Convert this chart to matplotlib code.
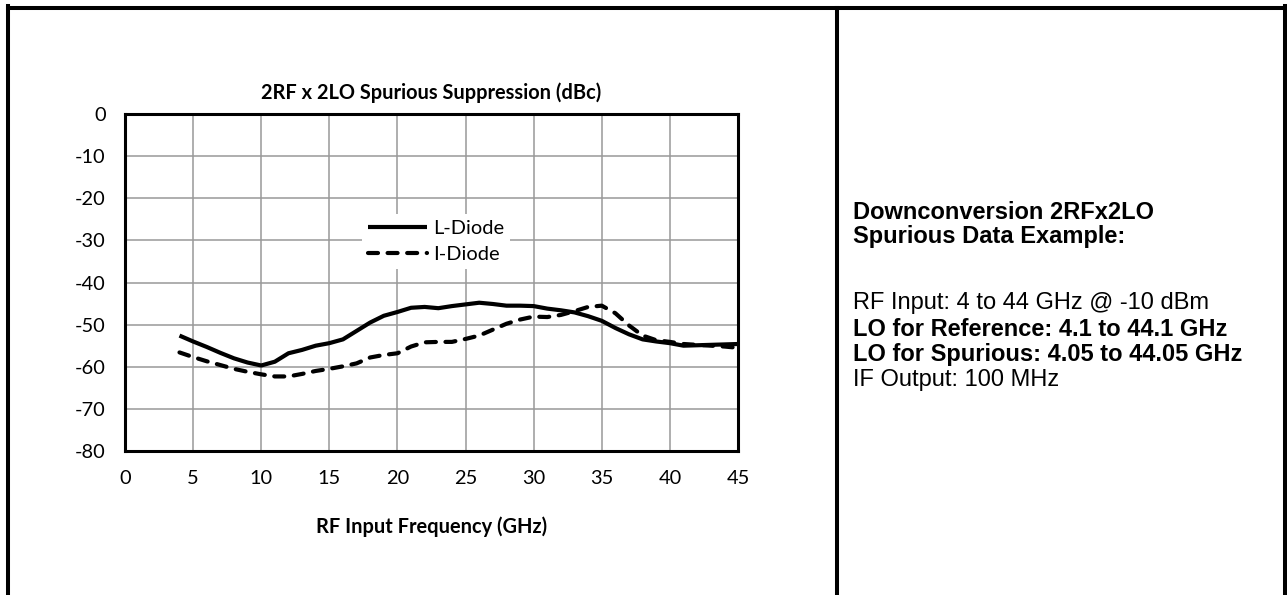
import matplotlib
matplotlib.use("Agg")
import matplotlib.pyplot as plt
from matplotlib.lines import Line2D

# ---- data ----
freq_ghz = [4, 5, 6, 7, 8, 9, 10, 11, 12, 13, 14, 15, 16, 17, 18, 19, 20, 21, 22, 23, 24,
            25, 26, 27, 28, 29, 30, 31, 32, 33, 34, 35, 36, 37, 38, 39, 40, 41, 42, 43, 44, 45]
l_diode = [-52.6, -54.0, -55.3, -56.7, -58.0, -59.0, -59.7, -58.8, -56.8, -56.0, -55.0,
           -54.4, -53.5, -51.5, -49.5, -47.9, -47.0, -46.0, -45.8, -46.1, -45.6, -45.2,
           -44.8, -45.1, -45.5, -45.5, -45.6, -46.2, -46.6, -47.1, -48.0, -49.1, -50.8,
           -52.3, -53.5, -54.0, -54.4, -55.0, -54.9, -54.8, -54.7, -54.6]
i_diode = [-56.6, -57.7, -58.7, -59.6, -60.5, -61.2, -61.8, -62.3, -62.3, -61.7, -61.0,
           -60.5, -59.9, -59.2, -57.8, -57.2, -56.8, -55.2, -54.2, -54.1, -54.1, -53.4,
           -52.6, -51.2, -49.8, -48.8, -48.1, -48.2, -47.7, -46.8, -45.8, -45.5, -47.3,
           -50.2, -52.6, -53.7, -54.1, -54.6, -54.8, -55.0, -55.2, -55.5]
series_labels = ["L-Diode", "I-Diode"]
x_ticks = [0, 5, 10, 15, 20, 25, 30, 35, 40, 45]
y_ticks = [0, -10, -20, -30, -40, -50, -60, -70, -80]
chart_title = "2RF x 2LO Spurious Suppression (dBc)"
x_label = "RF Input Frequency (GHz)"
info_lines = [
    "Downconversion 2RFx2LO",
    "Spurious Data Example:",
    "RF Input: 4 to 44 GHz @ -10 dBm",
    "LO for Reference: 4.1 to 44.1 GHz",
    "LO for Spurious: 4.05 to 44.05 GHz",
    "IF Output: 100 MHz",
]
info_weights = ["bold", "bold", "normal", "bold", "bold", "normal"]
info_y_px = [212, 237, 303, 329, 355, 380]

W, H = 1287, 595
fig = plt.figure(figsize=(W / 100, H / 100), dpi=100)
fig.patch.set_facecolor("white")

chart_font = "Lato"
info_font = "Liberation Sans"
fs = 14.4

# axes placement in pixels: left 125, right 738, top 114, bottom 451
ax = fig.add_axes([125 / W, 1 - 451 / H, (738 - 125) / W, (451 - 114) / H])
lw = 3.0
ax.plot(freq_ghz, l_diode, color="black", lw=lw, solid_capstyle="butt",
        solid_joinstyle="round", label=series_labels[0], zorder=3)
ax.plot(freq_ghz, i_diode, color="black", lw=lw, linestyle=(0, (2.4, 2.3)),
        dash_capstyle="round", dash_joinstyle="round", label=series_labels[1], zorder=3)

ax.set_xlim(0, 45)
ax.set_ylim(-80, 0)
ax.set_xticks(x_ticks)
ax.set_yticks(y_ticks)
ax.set_xticklabels([str(v) for v in x_ticks], fontfamily=chart_font, fontsize=fs)
ax.set_yticklabels([str(v) for v in y_ticks], fontfamily=chart_font, fontsize=fs)
ax.tick_params(axis="both", length=0)
ax.tick_params(axis="y", pad=14)
ax.tick_params(axis="x", pad=14)
ax.grid(True, color="#999999", lw=1.1, zorder=0)
ax.set_axisbelow(True)
for sp in ax.spines.values():
    sp.set_color("black")
    sp.set_linewidth(2.2)

ax.set_title(chart_title, fontfamily=chart_font, fontweight="bold", fontsize=fs, pad=11)
ax.set_xlabel(x_label, fontfamily=chart_font, fontweight="bold", fontsize=fs, labelpad=21)

leg = ax.legend(loc="center", bbox_to_anchor=(0.507, 0.622), frameon=True,
                prop={"family": chart_font, "size": fs}, handlelength=2.95,
                handletextpad=0.3, labelspacing=0.45, borderpad=0.3, fancybox=False)
leg.get_frame().set_edgecolor("none")
leg.get_frame().set_facecolor("white")
leg.get_frame().set_alpha(1)

# ---- outer frame lines (figure pixel coords) ----
def fline(x0, y0, x1, y1):
    fig.add_artist(Line2D([x0 / W, x1 / W], [1 - y0 / H, 1 - y1 / H],
                          transform=fig.transFigure, color="black", lw=2.9,
                          solid_capstyle="projecting"))

fline(8, 8, 1285, 8)       # top
fline(8, 6, 8, 600)        # left
fline(1285, 6, 1285, 600)  # right
fline(837, 8, 837, 600)    # divider

# ---- info text ----
for txt, wt, yy in zip(info_lines, info_weights, info_y_px):
    fig.text(853 / W, 1 - yy / H, txt, fontfamily=info_font, fontweight=wt,
             fontsize=17.0, va="center", ha="left")

fig.savefig("out.png", dpi=100, facecolor="white")
